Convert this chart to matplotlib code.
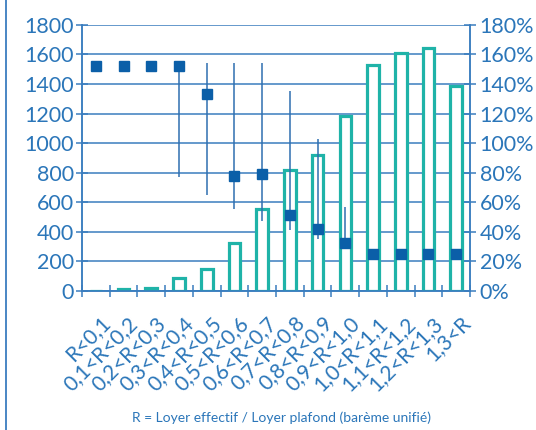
import numpy as np
import matplotlib
matplotlib.use("Agg")
import matplotlib.pyplot as plt
from matplotlib.lines import Line2D

# ── Data ────────────────────────────────────────────────
CATS = ["R<0,1", "0,1<R<0,2", "0,2<R<0,3", "0,3<R<0,4", "0,4<R<0,5",
        "0,5<R<0,6", "0,6<R<0,7", "0,7<R<0,8", "0,8<R<0,9", "0,9<R<1,0",
        "1,0<R<1,1", "1,1<R<1,2", "1,2<R<1,3", "1,3<R"]
COUNTS = [0, 10, 20, 85, 145, 325, 550, 820, 920, 1180, 1530, 1610, 1645, 1385]
PCT    = [152, 152, 152, 152, 133, 78, 79, 51, 42, 32, 25, 25, 25, 25]
PCT_LO = [np.nan, np.nan, np.nan, 77, 65, 55, 47, 41, 35, 29, np.nan, np.nan, np.nan, np.nan]
PCT_HI = [np.nan, np.nan, np.nan, 152, 154, 154, 154, 135.5, 102.5, 57, np.nan, np.nan, np.nan, np.nan]

# ── Palette ─────────────────────────────────────────────
TEXT = "#2b76b9"; GRID = "#3a7dbf"; SQ = "#0b5fa8"; VL = "#2f6fb0"; TEAL = "#1fb3a8"

plt.rcParams.update({"font.family": ["Lato", "DejaVu Sans"], "font.size": 15.5})

fig = plt.figure(figsize=(5.36, 4.30), dpi=100)
ax = fig.add_axes([0.153, 0.324, 0.724, 0.618])
ax2 = ax.twinx()

x = np.arange(len(CATS))
ax.bar(x, COUNTS, width=0.42, facecolor="white", edgecolor=TEAL, linewidth=2.3, zorder=3)
ax.set_ylim(0, 1800)
ax.set_xlim(-0.5, len(CATS) - 0.5)
ax.set_yticks(range(0, 1801, 200))
ax.yaxis.grid(True, color=GRID, linewidth=1.1, zorder=0)
ax.set_axisbelow(True)

ax2.vlines(x, PCT_LO, PCT_HI, color=VL, linewidth=1.1, zorder=4)
ax2.plot(x, PCT, "s", color=SQ, markersize=6.5, linestyle="none", zorder=5)
ax2.set_ylim(0, 180)
ax2.set_yticks(range(0, 181, 20))
ax2.set_yticklabels([f"{v}%" for v in range(0, 181, 20)])

for a in (ax, ax2):
    for s in a.spines.values():
        s.set_color(GRID); s.set_linewidth(1.1)
    a.spines["top"].set_visible(False)
    a.tick_params(axis="y", colors=GRID, labelcolor=TEXT, direction="inout", length=8,
                  width=1.1, pad=2)
ax2.tick_params(axis="y", pad=3)

ax.set_xticks(np.arange(-0.5, len(CATS)))
ax.set_xticklabels([])
ax.tick_params(axis="x", colors=GRID, direction="inout", length=8, width=1.1)
for xi, lab in zip(x, CATS):
    ax.text(xi + 0.15, -150, lab, rotation=45, ha="right", va="top",
            rotation_mode="anchor", color=TEXT, fontsize=15, clip_on=False)

fig.text(0.525, 0.028, "R = Loyer effectif / Loyer plafond (barème unifié)",
         ha="center", va="center", color=TEXT, fontsize=10)

# left frame line
fig.add_artist(Line2D([0.011, 0.011], [0, 1], color=GRID, linewidth=1.3,
                      transform=fig.transFigure))

fig.savefig("out.png", dpi=100)
